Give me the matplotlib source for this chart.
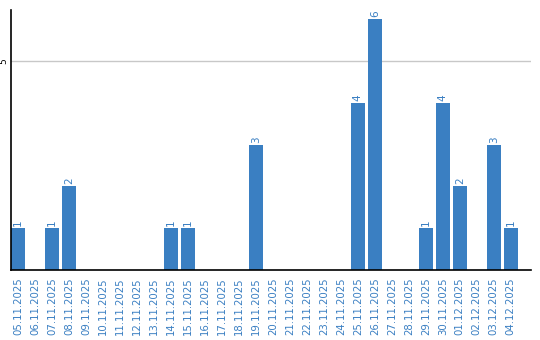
import matplotlib
matplotlib.use("Agg")
import matplotlib.pyplot as plt
import numpy as np

dates = ["05.11.2025", "06.11.2025", "07.11.2025", "08.11.2025", "09.11.2025",
         "10.11.2025", "11.11.2025", "12.11.2025", "13.11.2025", "14.11.2025",
         "15.11.2025", "16.11.2025", "17.11.2025", "18.11.2025", "19.11.2025",
         "20.11.2025", "21.11.2025", "22.11.2025", "23.11.2025", "24.11.2025",
         "25.11.2025", "26.11.2025", "27.11.2025", "28.11.2025", "29.11.2025",
         "30.11.2025", "01.12.2025", "02.12.2025", "03.12.2025", "04.12.2025"]
counts = [1, 0, 1, 2, 0, 0, 0, 0, 0, 1,
          1, 0, 0, 0, 3, 0, 0, 0, 0, 0,
          4, 6, 0, 0, 1, 4, 2, 0, 3, 1]

BLUE = "#3a7fc2"

fig = plt.figure(figsize=(5.4, 3.4), dpi=100)
ax = fig.add_axes([0.0204, 0.2059, 0.9626, 0.7647])

x = np.arange(len(dates))
w = 0.82
ax.bar(x, counts, width=w, color=BLUE, zorder=2)
for xi, v in zip(x, counts):
    if v > 0:
        ax.text(xi, v + 0.05, str(v), rotation=90, ha="center", va="bottom",
                color=BLUE, fontsize=7.5)

ax.set_xlim(-w / 2, 30.18)
ax.set_ylim(0, 6.22)
ax.set_yticks([5])
ax.set_yticklabels(["5"], rotation=90, va="center", fontsize=6.5)
ax.yaxis.grid(True, color="#c8c8c8", lw=1, zorder=0)
ax.tick_params(axis="y", length=0, pad=2)
ax.set_xticks(x)
ax.set_xticklabels(dates, rotation=90, color=BLUE, fontsize=7.3)
ax.tick_params(axis="x", length=0, pad=5)

for s in ["top", "right"]:
    ax.spines[s].set_visible(False)
for s in ["left", "bottom"]:
    ax.spines[s].set_color("black")
    ax.spines[s].set_linewidth(1.2)

fig.savefig("out.png", dpi=100)
